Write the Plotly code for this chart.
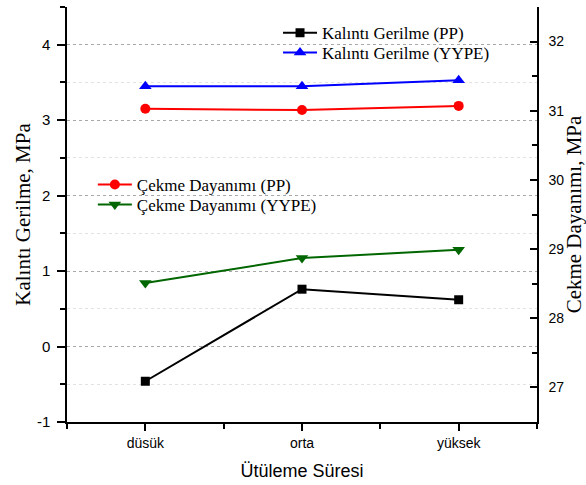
import plotly.graph_objects as go

# Ironing duration categories
categories = ["düsük", "orta", "yüksek"]
x_pos = [1, 2, 3]

# Residual stress (MPa) - left axis
kalinti_pp = [-0.46, 0.76, 0.62]
kalinti_yype = [3.45, 3.45, 3.53]

# Tensile strength (MPa) - right axis
cekme_pp = [31.03, 31.01, 31.07]
cekme_yype = [28.51, 28.87, 28.99]

# Axis tick values
left_ticks = [-1, 0, 1, 2, 3, 4]
right_ticks = [27, 28, 29, 30, 31, 32]

SERIF = "Liberation Serif, Times New Roman, serif"
SANS = "Liberation Sans, Arial, sans-serif"

fig = go.Figure()

fig.add_trace(go.Scatter(
    x=x_pos, y=kalinti_pp, name="Kalıntı Gerilme (PP)", mode="lines+markers",
    line=dict(color="#000000", width=2),
    marker=dict(symbol="square", size=9, color="#000000"),
    legend="legend", showlegend=True,
))
fig.add_trace(go.Scatter(
    x=x_pos, y=kalinti_yype, name="Kalıntı Gerilme (YYPE)", mode="lines+markers",
    line=dict(color="#0000FF", width=2),
    marker=dict(symbol="triangle-up", size=11, color="#0000FF"),
    legend="legend2", showlegend=True,
))
fig.add_trace(go.Scatter(
    x=x_pos, y=cekme_pp, name="Çekme Dayanımı (PP)", mode="lines+markers",
    line=dict(color="#FF0000", width=2),
    marker=dict(symbol="circle", size=10, color="#FF0000"),
    yaxis="y2", legend="legend3", showlegend=True,
))
fig.add_trace(go.Scatter(
    x=x_pos, y=cekme_yype, name="Çekme Dayanımı (YYPE)", mode="lines+markers",
    line=dict(color="#006600", width=2),
    marker=dict(symbol="triangle-down", size=11, color="#006600"),
    yaxis="y2", legend="legend4", showlegend=True,
))

legend_common = dict(
    font=dict(family=SERIF, size=17, color="#000000"),
    bgcolor="rgba(0,0,0,0)", borderwidth=0,
    xanchor="left", yanchor="middle", itemwidth=34,
)

fig.update_layout(
    width=586, height=485,
    margin=dict(l=67, r=49, t=7, b=63),
    paper_bgcolor="#FFFFFF", plot_bgcolor="#FFFFFF",
    font=dict(family=SANS, size=14, color="#000000"),
    showlegend=True,
    legend=dict(x=0.449, y=0.937, **legend_common),
    legend2=dict(x=0.449, y=0.889, **legend_common),
    legend3=dict(x=0.055, y=0.571, **legend_common),
    legend4=dict(x=0.055, y=0.523, **legend_common),
    xaxis=dict(
        range=[0.5, 3.5], tickvals=x_pos, ticktext=categories,
        automargin=False,
        showline=True, linecolor="#000000", linewidth=1.5,
        ticks="outside", ticklen=7, tickwidth=1.5, tickcolor="#000000",
        showgrid=False, zeroline=False,
        tickfont=dict(family=SANS, size=14),
        minor=dict(tickvals=[0.5, 1.5, 2.5, 3.5], ticks="outside", ticklen=5,
                   tickwidth=1.5, tickcolor="#000000", showgrid=False),
        title=dict(text="Ütüleme Süresi", font=dict(family=SANS, size=18), standoff=15),
    ),
    yaxis=dict(
        range=[-1, 4.5], tickvals=left_ticks, ticktext=[str(v) for v in left_ticks],
        automargin=False,
        showline=True, linecolor="#000000", linewidth=1.5,
        ticks="outside", ticklen=8, tickwidth=1.5, tickcolor="#000000",
        ticklabelstandoff=4,
        showgrid=True, gridcolor="#A8A8A8", griddash="dot", gridwidth=1,
        zeroline=False,
        tickfont=dict(family=SANS, size=15),
        minor=dict(dtick=0.5, ticks="outside", ticklen=5, tickwidth=1.5,
                   tickcolor="#000000", showgrid=True, gridcolor="#E2E2E2",
                   griddash="dot", gridwidth=1),
        title=dict(text="Kalıntı Gerilme, MPa", font=dict(family=SERIF, size=21), standoff=1),
    ),
    yaxis2=dict(
        overlaying="y", side="right", anchor="x",
        range=[26.5, 32.5], tickvals=right_ticks, ticktext=[str(v) for v in right_ticks],
        automargin=False,
        showline=True, linecolor="#000000", linewidth=1.5,
        ticks="inside", ticklen=7, tickwidth=1.5, tickcolor="#000000",
        ticklabelstandoff=7,
        showgrid=False, zeroline=False,
        tickfont=dict(family=SANS, size=14),
        minor=dict(dtick=0.5, ticks="inside", ticklen=5, tickwidth=1.5,
                   tickcolor="#000000", showgrid=False),
        title=dict(text="Cekme Dayanımı, MPa", font=dict(family=SERIF, size=21), standoff=14),
    ),
)

fig.write_html("out.html")
